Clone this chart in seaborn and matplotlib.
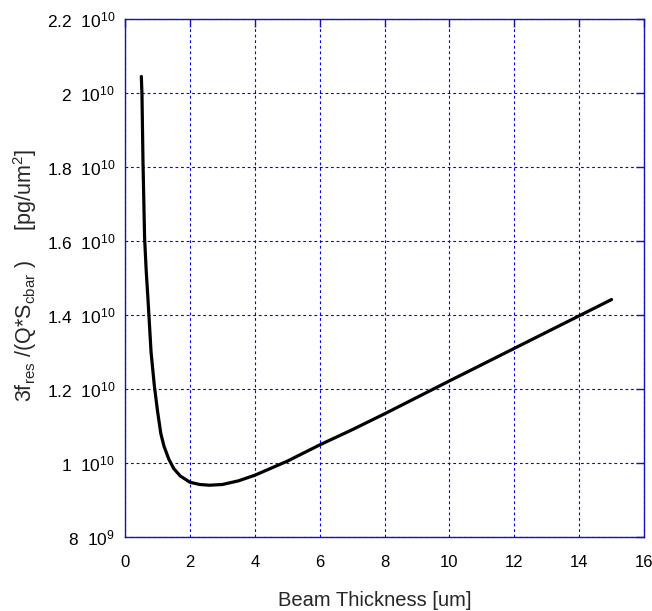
import numpy as np
import pandas as pd
import matplotlib
matplotlib.use("Agg")
import matplotlib.pyplot as plt
from matplotlib.ticker import FuncFormatter
import seaborn as sns

# Beam thickness [um] and the resulting mass-sensitivity figure [pg/um^2]
thickness = [0.50, 0.52, 0.55, 0.60, 0.65, 0.70, 0.80, 0.90, 1.00, 1.10,
             1.20, 1.35, 1.50, 1.70, 2.00, 2.30, 2.60, 3.00, 3.50, 4.00,
             5.00, 6.00, 7.00, 8.00, 10.0, 12.0, 14.0, 15.0]
sensitivity = [20.45e9, 19.95e9, 18.2e9, 16.1e9, 15.2e9, 14.5e9, 13.0e9, 12.1e9,
               11.4e9, 10.8e9, 10.45e9, 10.1e9, 9.85e9, 9.65e9, 9.48e9, 9.42e9,
               9.40e9, 9.42e9, 9.52e9, 9.67e9, 10.05e9, 10.49e9, 10.9e9, 11.33e9,
               12.22e9, 13.1e9, 13.98e9, 14.42e9]

x_ticks = [0, 2, 4, 6, 8, 10, 12, 14, 16]
y_ticks = [8e9, 10e9, 12e9, 14e9, 16e9, 18e9, 20e9, 22e9]

df = pd.DataFrame({"thickness": thickness, "sensitivity": sensitivity})

sns.set_style("white")
plt.rcParams["font.family"] = ["Liberation Sans", "DejaVu Sans"]
plt.rcParams["mathtext.fontset"] = "custom"
plt.rcParams["mathtext.rm"] = "Liberation Sans"
plt.rcParams["mathtext.it"] = "Liberation Sans:italic"
plt.rcParams["mathtext.bf"] = "Liberation Sans:bold"

frame_blue = "#1414b4"
grid_blue = "#0000ff"

fig = plt.figure(figsize=(6.52, 6.11), dpi=100)
ax = fig.add_axes([0.1919, 0.1211, 0.7958, 0.8475])

sns.lineplot(data=df, x="thickness", y="sensitivity", ax=ax, color="black",
             linewidth=2.3, sort=False, estimator=None)

ax.set_xlim(0, 16)
ax.set_ylim(8e9, 22e9)
ax.set_xticks(x_ticks)
ax.set_yticks(y_ticks)


def sci_label(v, pos):
    if v == 0:
        return "0"
    e = int(np.floor(np.log10(abs(v)) + 1e-9))
    m = round(v / 10 ** e, 6)
    return f"{m:g}  $10^{{{e}}}$"


ax.yaxis.set_major_formatter(FuncFormatter(sci_label))

ax.grid(True, color=grid_blue, linestyle=(0, (2.5, 2.5)), linewidth=0.8)
ax.set_axisbelow(True)

for s in ax.spines.values():
    s.set_color(frame_blue)
    s.set_linewidth(1.0)
    s.set_visible(True)

ax.tick_params(axis="both", which="major", direction="in", length=6,
               width=1.0, color=frame_blue, labelcolor="black",
               top=True, right=True, labelsize=12)
ax.tick_params(axis="y", labelsize=12.5, pad=7)
ax.tick_params(axis="x", pad=13)

ax.set_xlabel("Beam Thickness [um]", fontsize=14.5)
ax.set_ylabel(r"3f$_{\mathregular{res}}$ /(Q*S$_{\mathregular{cbar}}$ )     [pg/um$^{\mathregular{2}}$]",
              fontsize=15.5)
ax.xaxis.set_label_coords(0.482, -0.104)
ax.yaxis.set_label_coords(-0.166, 0.505)

fig.savefig("out.png", dpi=100)
